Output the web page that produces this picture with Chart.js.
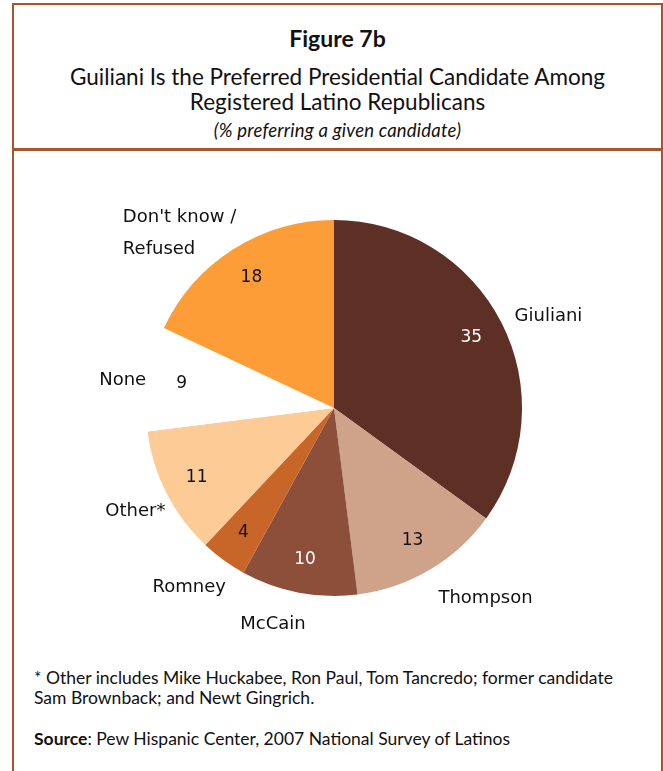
<!DOCTYPE html>
<html>
<head>
<meta charset="utf-8">
<script src="https://cdn.jsdelivr.net/npm/chart.js@4"></script>
<style>
  body { margin: 0; background: #fff; font-family: Lato, "Open Sans", sans-serif; }
  #frame { position: absolute; left: 12px; top: 3px; width: 647px; height: 800px; border: 2px solid #a9552b; border-bottom: none; }
  #header { position: absolute; left: 0; top: 0; width: 647px; height: 143px; border-bottom: 3px solid #a9552b; text-align: center; color: #111; }
  #header .fig { position: absolute; top: 18px; width: 100%; font-weight: bold; font-size: 23px; line-height: 30px; }
  #header .sub { position: absolute; top: 59px; width: 100%; font-size: 22.5px; line-height: 25px; }
  #header .note { position: absolute; top: 114px; width: 100%; font-style: italic; font-size: 18.5px; line-height: 22px; letter-spacing: 0.2px; }
  #chart-wrap { position: absolute; left: 0; top: 150px; width: 663px; height: 490px; }
  .foot { position: absolute; left: 34px; font-size: 17.5px; color: #111; line-height: 20px; }
</style>
</head>
<body>
<div id="frame">
  <div id="header">
    <div class="fig">Figure 7b</div>
    <div class="sub">Guiliani Is the Preferred Presidential Candidate Among<br>Registered Latino Republicans</div>
    <div class="note">(% preferring a given candidate)</div>
  </div>
</div>
<div id="chart-wrap"><canvas id="pie"></canvas></div>
<div class="foot" style="top: 668px;">* Other includes Mike Huckabee, Ron Paul, Tom Tancredo; former candidate<br>Sam Brownback; and Newt Gingrich.</div>
<div class="foot" style="top: 729px;"><b>Source</b>: Pew Hispanic Center, 2007 National Survey of Latinos</div>

<script>
const candidates = ["Giuliani", "Thompson", "McCain", "Romney", "Other*", "None", ["Don't know /", "Refused"]];
const shares = [35, 13, 10, 4, 11, 9, 18];

const sliceColors = ["#5e2f24", "#cfa28a", "#8b4f3a", "#c86528", "#fdcb96", "#ffffff", "#fd9d37"];
const valueColors = ["#fff", "#111", "#fff", "#111", "#111", "#111", "#111"];

const nameFont = "18px 'DejaVu Sans', sans-serif";
const valueFont = "17px 'DejaVu Sans', sans-serif";

// writes the share inside each slice and the name just outside it
const sliceLabels = {
  id: "sliceLabels",
  afterDatasetsDraw(chart) {
    const ctx = chart.ctx;
    const meta = chart.getDatasetMeta(0);
    ctx.save();
    ctx.textBaseline = "middle";
    meta.data.forEach((arc, i) => {
      const mid = (arc.startAngle + arc.endAngle) / 2;
      const cos = Math.cos(mid), sin = Math.sin(mid);
      const r = arc.outerRadius;

      ctx.font = valueFont;
      ctx.fillStyle = valueColors[i];
      ctx.textAlign = "center";
      ctx.fillText(String(shares[i]), arc.x + cos * r * 0.82, arc.y + sin * r * 0.82);

      // names sit past the rim, left-aligned on the right half, right-aligned on the left half
      const lines = [].concat(candidates[i]);
      const lineH = 32;
      const ax = arc.x + cos * r * 1.06;
      const ay = arc.y + sin * r * 1.06 + sin * 15 + 6;
      ctx.font = nameFont;
      ctx.fillStyle = "#111";
      const w = Math.max(...lines.map(l => ctx.measureText(l).width));
      const left = cos >= 0 ? ax + 3 : ax + 9 - w;
      const top = ay - (lines.length - 1) * lineH / 2;
      ctx.textAlign = "left";
      lines.forEach((l, k) => ctx.fillText(l, left, top + k * lineH));
    });
    ctx.restore();
  }
};

new Chart(document.getElementById("pie"), {
  type: "pie",
  data: {
    labels: candidates,
    datasets: [{
      data: shares,
      backgroundColor: sliceColors,
      borderWidth: 0
    }]
  },
  options: {
    responsive: true,
    maintainAspectRatio: false,
    animation: false,
    events: [],
    layout: { padding: { left: 5, right: 0, top: 70, bottom: 44 } },
    plugins: {
      legend: { display: false },
      tooltip: { enabled: false }
    }
  },
  plugins: [sliceLabels]
});
</script>
</body>
</html>
